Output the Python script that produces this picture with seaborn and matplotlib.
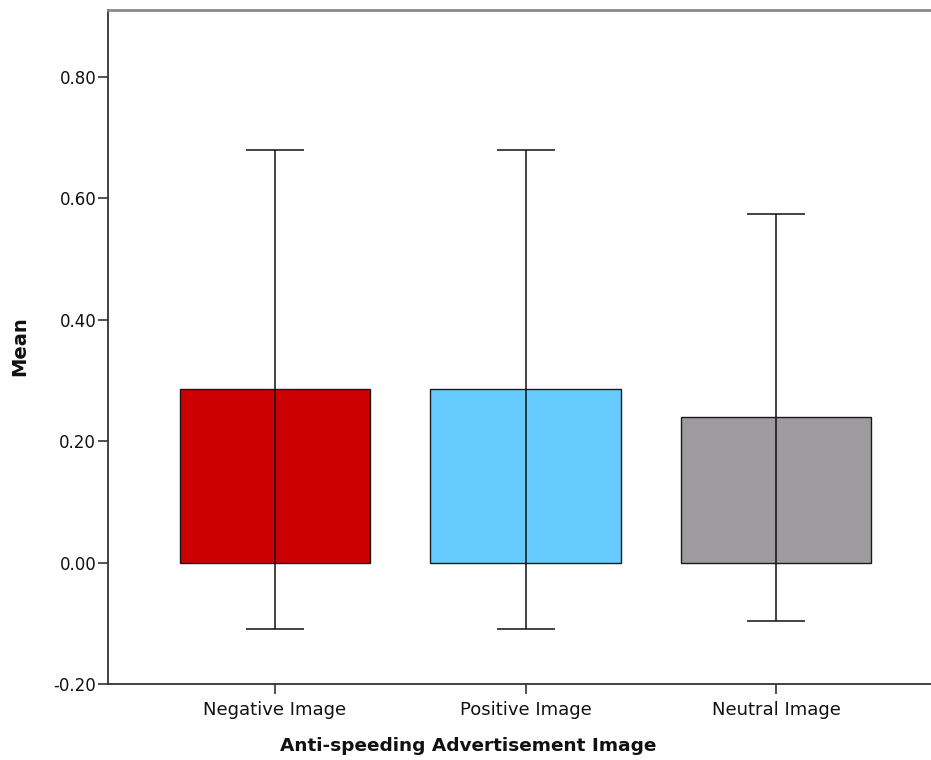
import matplotlib
matplotlib.use("Agg")
import matplotlib.pyplot as plt
import seaborn as sns
import pandas as pd
import numpy as np

categories = ["Negative Image", "Positive Image", "Neutral Image"]
means = [0.286, 0.286, 0.239]
ci_upper = [0.680, 0.680, 0.574]
ci_lower = [-0.109, -0.109, -0.097]
colors = ["#CC0000", "#66CCFF", "#9E9B9E"]

sns.set_theme(style="white")
plt.rcParams['font.family'] = ['DejaVu Sans']

df = pd.DataFrame({"image": categories, "mean": means})

fig = plt.figure(figsize=(9.31, 7.6), dpi=100)
ax = fig.add_axes([108/931, 76/760, 835/931, 674/760])

sns.barplot(data=df, x="image", y="mean", hue="image", palette=colors,
            order=categories, width=0.76, errorbar=None, legend=False,
            saturation=1, edgecolor="#1a1a1a", linewidth=1.0, ax=ax)

yerr = np.array([np.array(means) - np.array(ci_lower),
                 np.array(ci_upper) - np.array(means)])
ax.errorbar(np.arange(len(categories)), means, yerr=yerr, fmt="none",
            ecolor="#111111", elinewidth=1.1, capsize=21, capthick=1.1, zorder=5)

ax.set_xlim(-0.667, 2.667)
ax.set_ylim(-0.20, 0.91)
ax.set_yticks([-0.2, 0.0, 0.2, 0.4, 0.6, 0.8])
ax.set_yticklabels(["-0.20", "0.00", "0.20", "0.40", "0.60", "0.80"])

ax.tick_params(axis="both", which="major", direction="out", length=7, width=1.2,
               color="#333333", labelcolor="#111111", pad=1.5,
               left=True, bottom=True)
ax.tick_params(axis="y", labelsize=12)
ax.tick_params(axis="x", labelsize=13, pad=5)

for s in ["left", "bottom"]:
    ax.spines[s].set_color("#333333")
    ax.spines[s].set_linewidth(1.3)
ax.spines["top"].set_color("#8a8a8a")
ax.spines["top"].set_linewidth(2.0)
ax.spines["right"].set_visible(False)

ax.set_xlabel("Anti-speeding Advertisement Image", fontsize=13.3, fontweight="bold",
              color="#111111")
ax.set_ylabel("Mean", fontsize=14, fontweight="bold", color="#111111")
ax.xaxis.set_label_coords((468-108)/835, -(746-684)/674)
ax.xaxis.label.set_va("center")
ax.yaxis.set_label_coords(-(108-20)/835, (684-346)/674)
ax.yaxis.label.set_va("center")

fig.savefig("out.png", dpi=100)
